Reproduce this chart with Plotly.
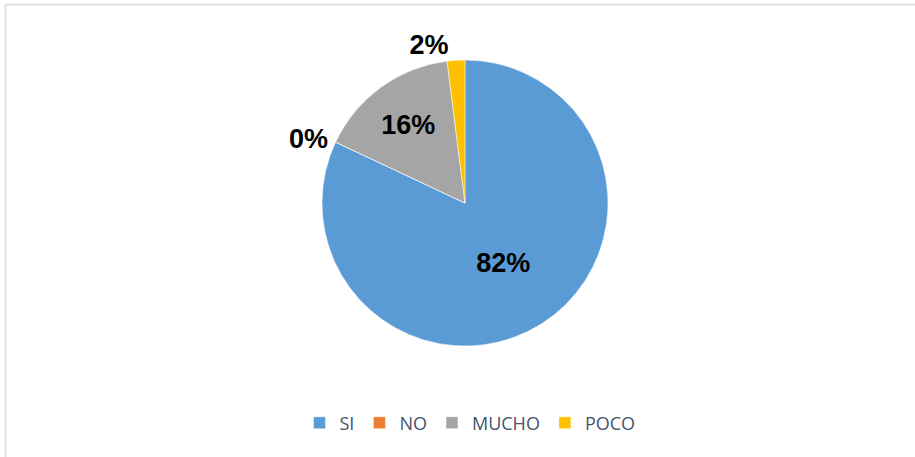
import plotly.graph_objects as go

labels = ["SI", "NO", "MUCHO", "POCO"]
values = [41, 0, 8, 1]
colors = ["#5B9BD5", "#ED7D31", "#A5A5A5", "#FFC000"]
text_pos = ["inside", "outside", "inside", "outside"]

W, H = 915, 457

fig = go.Figure(go.Pie(
    labels=labels,
    values=values,
    sort=False,
    direction="clockwise",
    rotation=0,
    marker=dict(colors=colors, line=dict(color="white", width=0.5)),
    textinfo="percent",
    texttemplate="%{percent:.0%}",
    textposition=text_pos,
    insidetextorientation="horizontal",
    textfont=dict(family="Liberation Sans, Arial", size=27, color="black", weight="bold"),
    domain=dict(x=[0.0164, 1.0], y=[1 - 346 / H, 1 - 60 / H]),
    showlegend=True,
    hoverinfo="label+percent",
))

fig.update_layout(
    width=W, height=H,
    margin=dict(l=0, r=0, t=0, b=0, autoexpand=False),
    paper_bgcolor="white",
    plot_bgcolor="white",
    legend=dict(
        orientation="h",
        x=470 / W, xanchor="center",
        y=1 - 423 / H, yanchor="middle",
        font=dict(family="Open Sans, Noto Sans", size=18, color="#44546A"),
        traceorder="normal",
    ),
    shapes=[dict(
        type="rect", xref="paper", yref="paper",
        x0=5.5 / W, x1=1.01, y0=-0.01, y1=1 - 4.5 / H,
        line=dict(color="#DEE2E8", width=2),
        fillcolor="rgba(0,0,0,0)", layer="below",
    )],
)

fig.write_html("out.html", config={"displayModeBar": False},
               post_script="document.body.style.margin='0';")
